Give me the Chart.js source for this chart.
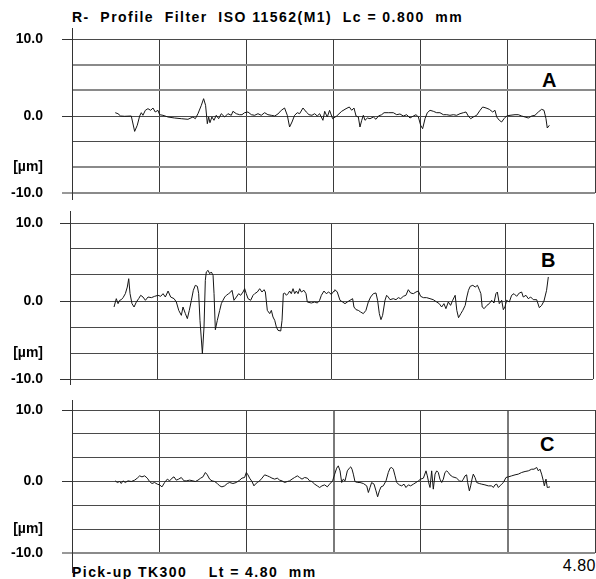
<!DOCTYPE html>
<html>
<head>
<meta charset="utf-8">
<script src="https://cdn.jsdelivr.net/npm/chart.js@4.4.1/dist/chart.umd.min.js"></script>
<style>
  html, body { margin:0; padding:0; background:#fff; }
  body { width:596px; height:579px; position:relative; overflow:hidden; font-family:"Liberation Sans", Arial, sans-serif; color:#000; }
  canvas { position:absolute; left:0; }
  .txt { position:absolute; white-space:pre; font-weight:bold; line-height:1; }
</style>
</head>
<body>
<div class="txt" id="title" style="left:72px; top:10px; font-size:14px; letter-spacing:1.45px;">R-  Profile  Filter  ISO 11562(M1)  Lc = 0.800  mm</div>
<div class="txt" style="left:542px; top:70px; font-size:20px;">A</div>
<div class="txt" style="left:541px; top:250px; font-size:20px;">B</div>
<div class="txt" style="left:540px; top:434px; font-size:20px;">C</div>
<div class="txt" style="left:72px; top:565px; font-size:14px; letter-spacing:1.45px;">Pick-up TK300    Lt = 4.80  mm</div>
<div class="txt" style="right:0px; top:558px; font-size:16px; font-weight:normal; letter-spacing:0.5px;">4.80</div>
<canvas id="pA" width="596" height="210" style="top:11px"></canvas>
<canvas id="pB" width="596" height="212" style="top:195px"></canvas>
<canvas id="pC" width="596" height="199" style="top:382px"></canvas>
<script>
// ---- data (x in mm, y in µm) ----
const xGridValues = [0, 0.8, 1.6, 2.4, 3.2, 4.0, 4.8];
const yTickValues = [-10, -20/3, -10/3, 0, 10/3, 20/3, 10];
const yTickLabels = ['-10.0', '[µm]', '', '0.0', '', '', '10.0'];

const xA = [0.397,0.422,0.446,0.483,0.544,0.575,0.599,0.621,0.636,0.651,0.673,0.697,0.722,0.743,0.764,0.789,0.804,0.835,0.881,0.942,1.003,1.064,1.110,1.132,1.156,1.187,1.208,1.226,1.242,1.254,1.266,1.284,1.303,1.324,1.346,1.370,1.401,1.431,1.462,1.477,1.508,1.538,1.560,1.584,1.615,1.646,1.676,1.707,1.737,1.768,1.798,1.829,1.860,1.890,1.921,1.951,1.976,1.997,2.019,2.043,2.068,2.089,2.120,2.150,2.175,2.202,2.227,2.251,2.273,2.303,2.319,2.343,2.364,
  2.392,2.429,2.475,2.515,2.545,2.567,2.588,2.607,2.628,2.643,2.659,2.674,2.689,2.711,2.735,2.766,2.790,2.812,2.842,2.864,2.903,2.949,2.980,3.010,3.041,3.072,3.102,3.133,3.157,3.179,3.200,3.218,3.240,3.261,3.286,3.316,3.347,3.377,3.408,3.439,3.469,3.500,3.530,3.561,3.592,3.616,3.637,3.659,3.683,3.714,3.745,3.769,3.800,3.830,3.861,3.882,3.898,3.922,3.943,3.965,3.989,4.020,4.066,4.096,4.127,4.158,4.188,4.219,4.249,4.280,4.310,4.332,4.350,4.362,4.381];
const yA = [0.43,0.30,0.0,-0.04,0.0,-2.0,-1.20,0.0,0.43,0.09,0.74,0.95,0.74,1.04,0.52,0.74,0.17,0.09,-0.13,-0.26,-0.35,-0.43,-0.13,-0.35,0.30,1.39,2.25,1.39,-1.00,-0.13,-0.87,-0.13,-0.56,0.09,-0.35,0.30,-0.13,0.30,0.09,0.61,0.30,0.17,0.17,0.43,0.52,0.17,0.09,0.30,0.09,0.43,0.17,0.09,0.0,0.26,0.74,1.04,0.09,-1.43,-0.78,0.09,0.43,0.30,1.04,0.52,0.17,0.09,0.30,0.0,0.30,-0.56,0.61,-0.13,0.74,
  -0.35,0.0,0.61,0.95,1.17,0.74,1.04,0.0,-0.13,-1.43,-0.56,0.09,-0.56,-0.26,-0.35,-0.13,-0.43,0.0,0.17,0.43,0.43,0.43,0.17,0.26,0.0,0.17,-0.26,0.0,0.17,-0.13,-1.21,-1.65,-0.35,0.43,0.74,0.61,0.43,0.43,0.17,0.17,0.09,0.17,0.09,0.30,0.43,0.52,0.0,-0.35,-0.13,0.09,0.74,1.17,1.04,0.87,0.52,0.74,-0.13,-0.56,-0.78,-0.35,0.0,0.09,0.17,0.17,0.0,-0.13,-0.26,0.0,0.09,0.52,0.87,0.74,-0.35,-1.56,-1.21];

const xB = [0.404,0.425,0.441,0.456,0.471,0.487,0.508,0.526,0.539,0.551,0.569,0.588,0.609,0.630,0.649,0.670,0.692,0.716,0.747,0.777,0.808,0.832,0.854,0.875,0.900,0.924,0.955,0.976,0.998,1.022,1.037,1.059,1.077,1.095,1.114,1.132,1.150,1.169,1.181,1.193,1.215,1.230,1.242,1.251,1.267,1.282,1.297,1.313,1.322,1.334,1.352,1.374,1.389,1.404,1.420,1.435,1.456,1.475,1.487,1.505,1.527,1.548,1.566,1.588,1.603,1.618,1.634,1.658,1.680,1.695,1.719,1.741,1.762,1.781,1.793,1.811,1.833,1.848,1.863,1.879,1.894,1.909,1.934,1.946,1.958,1.970,1.986,2.001,2.016,2.031,2.047,2.062,2.077,2.093,2.108,2.123,2.147,2.166,2.178,2.215,2.245,2.270,2.291,2.307,2.331,2.352,2.374,2.398,2.423,
  2.432,2.453,2.478,2.502,2.524,2.545,2.570,2.594,2.606,2.625,2.646,2.667,2.692,2.716,2.738,2.759,2.784,2.808,2.823,2.839,2.854,2.869,2.891,2.906,2.921,2.937,2.967,2.992,3.013,3.035,3.059,3.083,3.105,3.126,3.151,3.175,3.197,3.218,3.243,3.273,3.304,3.334,3.365,3.389,3.411,3.432,3.450,3.472,3.493,3.512,3.535,3.550,3.566,3.587,3.605,3.627,3.642,3.657,3.673,3.697,3.719,3.740,3.759,3.771,3.783,3.801,3.826,3.848,3.870,3.891,3.909,3.922,3.940,3.962,3.977,3.992,4.007,4.032,4.053,4.075,4.099,4.124,4.145,4.160,4.185,4.206,4.228,4.252,4.283,4.307,4.329,4.350,4.374,4.390];
const yB = [-0.77,0.30,-0.34,0.09,0.17,0.43,0.94,1.79,2.86,0.94,-0.34,-0.77,-0.13,0.30,0.73,0.51,0.09,0.51,0.43,0.60,0.73,0.60,0.94,0.51,1.28,0.51,0.30,-0.13,-1.20,-1.84,-0.77,-1.62,-2.26,-1.20,0.09,1.37,2.01,1.88,0.94,-2.48,-6.75,-3.33,2.65,3.72,3.93,3.50,3.72,3.29,0.94,-3.68,-2.48,-1.20,-0.34,0.09,0.51,0.73,0.94,1.15,1.37,0.09,0.51,0.94,0.73,1.15,1.58,0.94,0.30,0.09,0.73,0.94,1.15,1.58,1.15,1.45,1.15,-1.20,-1.62,-1.20,-2.05,-2.48,-3.33,-3.76,-3.85,-2.48,0.94,1.03,0.73,0.94,1.28,0.94,1.58,0.94,1.28,0.94,1.58,1.15,1.37,0.94,-0.13,-0.26,-0.13,-0.26,0.09,0.73,1.28,0.94,1.15,0.85,1.28,
  1.45,1.15,0.09,-0.13,-0.34,-0.13,0.09,0.30,-0.77,-1.11,-1.20,-1.41,-1.62,-1.20,-0.13,0.51,0.94,1.03,0.09,-1.62,-2.39,-1.84,0.09,0.73,0.51,0.17,0.30,0.17,0.43,0.30,0.60,0.73,1.45,1.03,0.94,1.15,1.28,0.60,0.43,0.43,0.30,0.17,-0.13,-0.34,-0.77,-0.34,-0.98,-0.13,-0.56,0.09,0.73,-1.20,-2.14,-1.62,-1.20,-0.56,0.51,1.37,1.88,2.01,1.79,2.01,1.37,0.94,-0.77,-0.98,-0.56,-0.34,0.09,-0.26,0.94,1.15,-0.34,0.09,-1.11,-0.77,0.09,-0.13,0.73,0.94,0.60,1.03,1.15,0.51,0.73,0.30,0.51,0.17,0.17,-0.85,-0.56,0.0,1.37,3.08];

const xC = [0.397,0.416,0.437,0.452,0.468,0.489,0.514,0.544,0.575,0.599,0.621,0.642,0.667,0.691,0.712,0.734,0.758,0.783,0.804,0.826,0.850,0.875,0.896,0.918,0.936,0.957,0.979,1.003,1.028,1.049,1.080,1.110,1.132,1.156,1.181,1.202,1.224,1.242,1.263,1.285,1.309,1.334,1.355,1.376,1.401,1.425,1.447,1.477,1.508,1.539,1.560,1.584,1.600,1.615,1.630,1.652,1.670,1.682,1.701,1.722,1.744,1.768,1.793,1.814,1.835,1.860,1.884,1.906,1.927,1.952,1.976,1.997,2.019,2.043,2.068,2.089,2.111,2.135,2.160,2.181,2.202,2.227,2.251,2.273,2.294,2.319,2.343,2.364,
  2.392,2.411,2.429,2.444,2.460,2.475,2.490,2.506,2.527,2.545,2.558,2.570,2.582,2.597,2.619,2.643,2.674,2.705,2.720,2.735,2.750,2.772,2.790,2.805,2.821,2.836,2.857,2.882,2.903,2.919,2.934,2.949,2.965,2.980,3.004,3.026,3.047,3.065,3.087,3.108,3.133,3.157,3.179,3.200,3.225,3.249,3.261,3.277,3.286,3.301,3.316,3.332,3.347,3.362,3.377,3.393,3.408,3.423,3.439,3.454,3.469,3.494,3.515,3.530,3.555,3.576,3.592,3.607,3.622,3.631,3.647,3.659,3.671,3.683,3.699,3.714,3.738,3.760,3.790,3.821,3.852,3.867,3.882,3.898,3.913,3.928,3.943,3.959,3.983,4.005,4.035,4.066,4.096,4.127,4.158,4.188,4.219,4.240,4.265,4.280,4.295,4.310,4.326,4.335,4.350,4.362,4.387];
const yC = [0.09,-0.14,0.0,-0.28,0.09,-0.14,0.09,0.0,0.19,0.47,0.79,0.65,0.79,0.47,0.0,-0.28,-0.14,-0.37,-0.47,-0.75,-0.14,0.33,0.09,0.47,0.65,0.19,0.33,0.56,0.09,0.09,0.19,0.09,0.0,0.19,0.47,0.65,1.26,0.93,0.33,0.09,0.0,-0.28,-0.61,-0.75,-0.61,-0.28,-0.14,-0.28,-0.14,0.19,0.47,0.56,1.26,0.93,0.47,0.0,-0.61,-0.37,-0.14,0.09,0.47,0.93,0.79,0.65,0.47,0.33,0.47,0.19,0.09,-0.14,0.0,0.09,0.33,0.56,0.79,0.56,0.33,0.56,0.47,0.09,0.0,-0.37,-0.61,-0.84,-0.61,-0.47,-0.75,-0.37,
  0.09,1.03,1.86,2.19,1.49,-0.14,0.33,0.09,1.49,1.86,2.05,1.72,1.03,0.0,-0.14,-0.14,-0.28,-0.61,-1.54,-0.84,-0.14,-0.37,-1.31,-2.14,-1.31,-0.75,-0.61,0.09,1.26,1.86,1.96,1.72,0.79,-0.14,-0.47,-0.61,-0.37,-0.84,-0.47,-0.61,-0.37,-0.14,0.09,0.33,0.47,1.49,0.79,-0.37,-0.84,1.49,-1.07,1.03,1.49,1.26,0.33,-0.14,0.33,1.26,1.49,1.26,0.93,0.65,0.56,0.47,0.09,0.0,0.33,0.79,0.93,-0.14,-1.31,-0.61,0.33,1.03,0.56,-0.14,-0.28,-0.37,-0.47,-0.61,-0.61,-0.84,-0.47,-0.37,-0.84,-0.61,-0.37,-0.14,0.56,0.65,0.79,0.93,1.03,1.26,1.40,1.49,1.72,1.72,1.96,1.49,1.72,1.03,0.09,-0.61,0.33,-0.84,-0.75];

// ---- styling per panel ----
const panelStyles = {
  pA: { pad:28, padRight:1, axisWidth:72, extTop:11, extBottom:7, heavyY:[0,1,4,5], heavyX:[] },
  pB: { pad:28, padRight:3, axisWidth:70, extTop:12, extBottom:6, heavyY:[], heavyX:[] },
  pC: { pad:28, padRight:1, axisWidth:72, extTop:10, extBottom:20, heavyY:[0], heavyX:[3,5] }
};

const axisExt = {
  id: 'axisExt',
  afterDraw(chart, args, opts) {
    const ctx = chart.ctx, a = chart.chartArea;
    ctx.save();
    ctx.strokeStyle = '#333';
    ctx.lineWidth = 1;
    ctx.beginPath();
    const x = Math.round(a.left) + 0.5;
    ctx.moveTo(x, a.top - opts.top);
    ctx.lineTo(x, a.bottom + opts.bottom);
    ctx.stroke();
    ctx.restore();
  }
};

function makePanel(id, xs, ys) {
  const s = panelStyles[id];
  const pts = xs.map((x, i) => ({ x: x, y: ys[i] }));
  new Chart(document.getElementById(id), {
    type: 'line',
    data: { datasets: [{ data: pts, borderColor: '#151515', borderWidth: 1, pointRadius: 0, tension: 0, fill: false }] },
    plugins: [axisExt],
    options: {
      responsive: false,
      animation: false,
      events: [],
      layout: { padding: { top: s.pad, bottom: s.pad, right: s.padRight, left: 0 } },
      plugins: { legend: { display: false }, tooltip: { enabled: false }, title: { display: false }, axisExt: { top: s.extTop, bottom: s.extBottom } },
      scales: {
        x: {
          type: 'linear', min: 0, max: 4.8,
          afterBuildTicks: sc => { sc.ticks = xGridValues.map(v => ({ value: v })); },
          afterFit: sc => { sc.height = 0; },
          ticks: { display: false, autoSkip: false },
          border: { display: false },
          grid: {
            drawTicks: false,
            color: c => s.heavyX.includes(c.index) ? '#7a7a7a' : '#3a3a3a',
            lineWidth: c => s.heavyX.includes(c.index) ? 2 : 1
          }
        },
        y: {
          type: 'linear', min: -10, max: 10,
          afterBuildTicks: sc => { sc.ticks = yTickValues.map(v => ({ value: v })); },
          afterFit: sc => { sc.width = s.axisWidth; },
          ticks: {
            autoSkip: false,
            padding: 19 + (s.axisWidth - 72),
            color: '#000',
            font: { family: '"Liberation Sans", Arial, sans-serif', size: 14, weight: 'bold' },
            callback: (v, i) => yTickLabels[i]
          },
          border: { display: false },
          grid: {
            tickLength: 10,
            color: c => s.heavyY.includes(c.index) ? '#8a8a8a' : '#4a4a4a',
            lineWidth: c => s.heavyY.includes(c.index) ? 2 : 1,
            tickColor: c => (Math.abs(c.tick.value % 10) < 0.01) ? '#333' : 'rgba(0,0,0,0)',
            tickWidth: 1
          }
        }
      }
    }
  });
}

makePanel('pA', xA, yA);
makePanel('pB', xB, yB);
makePanel('pC', xC, yC);
</script>
</body>
</html>
